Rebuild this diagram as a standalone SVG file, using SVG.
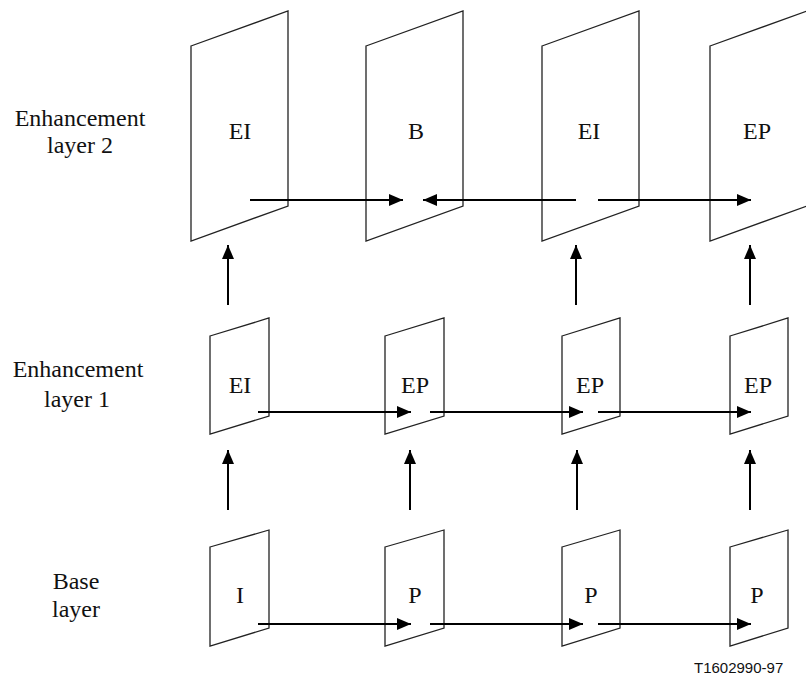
<svg xmlns="http://www.w3.org/2000/svg" width="806" height="679" viewBox="0 0 806 679">
<style>
.fr{fill:none;stroke:#222;stroke-width:1.3}
.lbl{font-family:"Liberation Serif","Times New Roman",serif;font-size:24px;fill:#111;text-anchor:middle}
.ar{stroke:#000;stroke-width:2;fill:none;marker-end:url(#ah)}
.note{font-family:"Liberation Sans",Arial,sans-serif;font-size:15px;fill:#111}
</style>
<defs>
<marker id="ah" markerUnits="userSpaceOnUse" markerWidth="14" markerHeight="12" refX="14" refY="6" orient="auto">
<path d="M0,0 L14,6 L0,12 z" fill="#000"/>
</marker>
</defs>
<rect width="806" height="679" fill="#fff"/>
<g id="layer-labels">
<text class="lbl" x="80" y="126">Enhancement</text>
<text class="lbl" x="80" y="153">layer 2</text>
<text class="lbl" x="78" y="377">Enhancement</text>
<text class="lbl" x="77" y="407">layer 1</text>
<text class="lbl" x="76" y="589">Base</text>
<text class="lbl" x="76" y="617">layer</text>
</g>
<g id="e2-1"><polygon class="fr" points="191,46 288,11 288,206 191,241"/><text class="lbl" x="240" y="139">EI</text></g>
<g id="e2-2"><polygon class="fr" points="366,46 463,11 463,206 366,241"/><text class="lbl" x="416" y="139">B</text></g>
<g id="e2-3"><polygon class="fr" points="542,46 639,11 639,206 542,241"/><text class="lbl" x="589" y="139">EI</text></g>
<g id="e2-4"><polygon class="fr" points="710,46 807,11 807,206 710,241"/><text class="lbl" x="757" y="139">EP</text></g>
<g id="e1-1"><polygon class="fr" points="210,336 269,318 269,416 210,434"/><text class="lbl" x="240" y="393">EI</text></g>
<g id="e1-2"><polygon class="fr" points="385,336 444,318 444,416 385,434"/><text class="lbl" x="415" y="393">EP</text></g>
<g id="e1-3"><polygon class="fr" points="562,336 620,318 620,416 562,434"/><text class="lbl" x="590" y="393">EP</text></g>
<g id="e1-4"><polygon class="fr" points="730,336 788,318 788,416 730,434"/><text class="lbl" x="758" y="393">EP</text></g>
<g id="b-1"><polygon class="fr" points="210,547 269,530 269,628 210,646"/><text class="lbl" x="240" y="603">I</text></g>
<g id="b-2"><polygon class="fr" points="385,547 444,530 444,628 385,646"/><text class="lbl" x="415" y="603">P</text></g>
<g id="b-3"><polygon class="fr" points="562,547 620,530 620,628 562,646"/><text class="lbl" x="591" y="603">P</text></g>
<g id="b-4"><polygon class="fr" points="730,547 788,530 788,628 730,646"/><text class="lbl" x="757" y="603">P</text></g>
<g id="connectors">
<line class="ar" x1="250" y1="200" x2="403" y2="200"/>
<line class="ar" x1="576" y1="200" x2="423" y2="200"/>
<line class="ar" x1="598" y1="200" x2="751" y2="200"/>
<line class="ar" x1="258" y1="412" x2="411" y2="412"/>
<line class="ar" x1="430" y1="412" x2="583" y2="412"/>
<line class="ar" x1="598" y1="412" x2="751" y2="412"/>
<line class="ar" x1="258" y1="624" x2="411" y2="624"/>
<line class="ar" x1="430" y1="624" x2="583" y2="624"/>
<line class="ar" x1="598" y1="624" x2="751" y2="624"/>
<line class="ar" x1="228" y1="305" x2="228" y2="245"/>
<line class="ar" x1="576" y1="305" x2="576" y2="245"/>
<line class="ar" x1="750" y1="305" x2="750" y2="245"/>
<line class="ar" x1="228" y1="510" x2="228" y2="450"/>
<line class="ar" x1="410" y1="510" x2="410" y2="450"/>
<line class="ar" x1="577" y1="510" x2="577" y2="450"/>
<line class="ar" x1="750" y1="510" x2="750" y2="450"/>
</g>
<text class="note" x="694" y="673">T1602990-97</text>
</svg>
